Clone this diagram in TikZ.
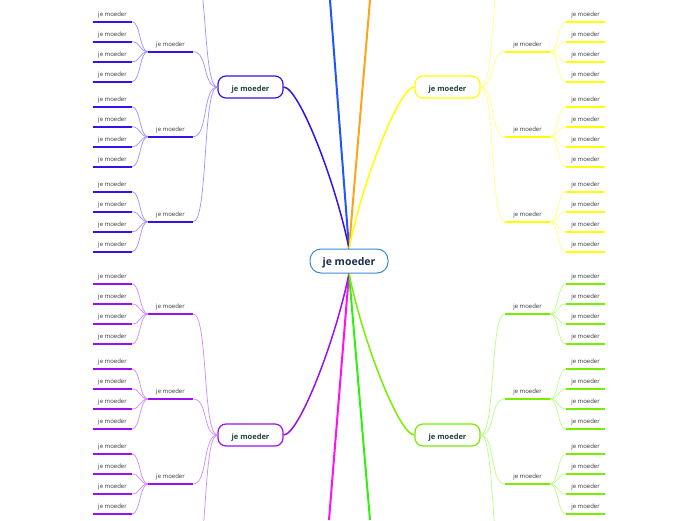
\documentclass[tikz,border=0pt]{standalone}
\usepackage{fontspec}
\setmainfont{Open Sans}
\usetikzlibrary{positioning}

\definecolor{hubline}{HTML}{3A8AD2}
\definecolor{hubtext}{HTML}{1E2D4A}
\definecolor{topictext}{HTML}{1E4436}
\definecolor{leaftext}{HTML}{333333}
\definecolor{tlDark}{HTML}{3A10E8}
\definecolor{tlLight}{HTML}{9C90FF}
\definecolor{trDark}{HTML}{FFFF00}
\definecolor{trLight}{HTML}{FFFF80}
\definecolor{blDark}{HTML}{9A10F0}
\definecolor{blLight}{HTML}{CC88FF}
\definecolor{brDark}{HTML}{77EE00}
\definecolor{brLight}{HTML}{B8FF80}
\definecolor{upBlue}{HTML}{1E55FF}
\definecolor{upOrange}{HTML}{FFA31A}
\definecolor{downMagenta}{HTML}{FF10F0}
\definecolor{downGreen}{HTML}{30F010}

\begin{document}
\begin{tikzpicture}[x=1pt,y=-1pt,
  hub/.style={draw=hubline,fill=white,line width=1pt,rounded corners=11pt,minimum width=78pt,minimum height=24pt,text height=2ex,text depth=0.3ex,font=\fontsize{10.5}{12}\selectfont\bfseries,text=hubtext},
  topic/.style={fill=white,line width=1.2pt,rounded corners=8pt,minimum width=65pt,minimum height=22pt,text height=2ex,text depth=0.3ex,font=\fontsize{7.5}{9}\selectfont\bfseries,text=topictext},
  subtopic/.style={anchor=south,minimum width=45pt,inner xsep=0pt,inner ysep=4pt,text height=4.5pt,text depth=1.5pt,font=\fontsize{6}{7}\selectfont,text=leaftext},
  leaf/.style={subtopic,minimum width=39pt,inner ysep=3.5pt},
  twig/.style={line width=0.7pt},
  bar/.style={line width=1.6pt}]
  \useasboundingbox (0,0) rectangle (696,520);
  \clip (0,0) rectangle (696,520);

  % central and main topics
  \node[hub] (hub) at (349,261) {je moeder};
  \node[topic,draw=tlDark] (tl) at (250.5,87) {je moeder};
  \node[topic,draw=trDark] (tr) at (447.5,87) {je moeder};
  \node[topic,draw=blDark] (bl) at (250.5,435) {je moeder};
  \node[topic,draw=brDark] (br) at (447.5,435) {je moeder};

  % branches leaving the picture
  \coordinate (up-a) at (330,0);
  \coordinate (up-b) at (370,0);
  \coordinate (down-a) at (329,520);
  \coordinate (down-b) at (370,520);
  \draw[line width=2pt,upBlue] (hub.north) -- (up-a);
  \draw[line width=2pt,upOrange] (hub.north) -- (up-b);
  \draw[line width=2pt,downMagenta] (hub.south) -- (down-a);
  \draw[line width=2pt,downGreen] (hub.south) -- (down-b);

  % hub to main topics
  \draw[line width=1.5pt,tlDark] (hub.north) .. controls +(-14,-69) and +(15,0) .. (tl.east);
  \draw[line width=1.5pt,trDark] (hub.north) .. controls +(14,-69) and +(-15,0) .. (tr.west);
  \draw[line width=1.5pt,blDark] (hub.south) .. controls +(-14,69) and +(15,0) .. (bl.east);
  \draw[line width=1.5pt,brDark] (hub.south) .. controls +(14,69) and +(-15,0) .. (br.west);

  % subtopics and leaves
  \foreach \br/\s/\dk/\lt/\subs/\far in {tl/-1/tlDark/tlLight/{51.7,136.7,221.7}/-33.3,
      tr/1/trDark/trLight/{51.7,136.7,221.7}/-33.3,
      bl/-1/blDark/blLight/{314,399,484}/569,
      br/1/brDark/brLight/{314,399,484}/569} {
    \ifnum\s<0\relax
      \def\ma{west}\def\sa{south east}\def\sb{south west}%
    \else
      \def\ma{east}\def\sa{south west}\def\sb{south east}%
    \fi
    \pgfmathsetmacro\sx{349+\s*178.5}
    \pgfmathsetmacro\lx{349+\s*236.5}
    \pgfmathsetmacro\fx{349+\s*156}
    \coordinate (\br-far) at (\fx,\far);
    \draw[twig,\lt] (\br.\ma) .. controls +(\s*15,0) and +(-\s*15,0) .. (\br-far);
    \foreach \y [count=\i] in \subs {
      \node[subtopic] (\br-s\i) at (\sx,\y) {je moeder};
      \draw[bar,\dk] (\br-s\i.south west) -- (\br-s\i.south east);
      \draw[twig,\lt] (\br.\ma) .. controls +(\s*15,0) and +(-\s*15,0) .. (\br-s\i.\sa);
      \foreach \d [count=\j] in {-30,-10,10,30} {
        \pgfmathsetmacro\ly{\y+\d}
        \node[leaf] (\br-s\i-\j) at (\lx,\ly) {je moeder};
        \draw[bar,\dk] (\br-s\i-\j.south west) -- (\br-s\i-\j.south east);
        \draw[twig,\lt] (\br-s\i.\sb) .. controls +(\s*8,0) and +(-\s*8,0) .. (\br-s\i-\j.\sa);
      }
    }
  }
\end{tikzpicture}
\end{document}
